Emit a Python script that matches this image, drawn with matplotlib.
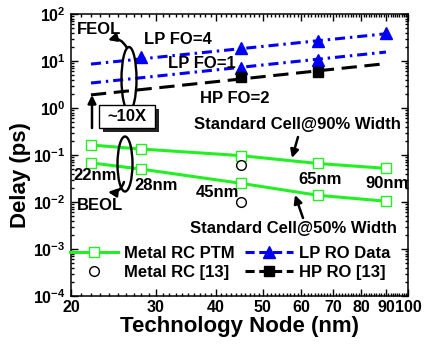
import matplotlib
matplotlib.use("Agg")
import matplotlib.pyplot as plt
import numpy as np
from matplotlib.lines import Line2D
from matplotlib.patches import Ellipse, Rectangle
from matplotlib.ticker import FixedLocator, FuncFormatter, LogLocator, NullFormatter
from matplotlib.transforms import IdentityTransform

# ---- data ----
nodes = [22, 28, 45, 65, 90]
rc_ptm_90 = [0.163, 0.134, 0.097, 0.066, 0.052]
rc_ptm_50 = [0.068, 0.050, 0.025, 0.0139, 0.0104]

rc13_x = [45, 45]
rc13_y = [0.061, 0.0102]

lp_fo4_x = [28, 45, 65, 90]
lp_fo4_y = [12.4, 18.6, 27.0, 40.0]
lp_fo1_x = [45, 65]
lp_fo1_y = [7.0, 10.5]
hp_fo2_x = [45, 65]
hp_fo2_y = [4.5, 5.9]

# fitted trend lines (end points)
fit_x = [22, 90]
lp_fo4_fit = [8.6, 38.0]
lp_fo1_fit = [3.4, 15.5]
hp_fo2_fit = [1.9, 8.8]

xticks = [20, 30, 40, 50, 60, 70, 80, 90, 100]
node_labels = ["22nm", "28nm", "45nm", "65nm", "90nm"]

GREEN = "#22f022"
BLUE = "#0000f5"

plt.rcParams["font.family"] = "Liberation Sans"
plt.rcParams["font.weight"] = "bold"
plt.rcParams["mathtext.fontset"] = "custom"
plt.rcParams["mathtext.rm"] = "Liberation Sans:bold"
plt.rcParams["mathtext.bf"] = "Liberation Sans:bold"
plt.rcParams["mathtext.it"] = "Liberation Sans:bold"

W, H = 425, 347
fig = plt.figure(figsize=(W / 100, H / 100), dpi=100)
ax = fig.add_axes([71 / W, 1 - 296 / H, 337 / W, 282 / H])


def fp(x, y):
    # reference pixel -> figure pixels (origin bottom-left)
    return (x, H - y)


LW = 2.2
# green metal RC lines
ax.plot(nodes, rc_ptm_90, color=GREEN, lw=LW, marker="s", ms=7.5,
        mfc="white", mec=GREEN, mew=1.0)
ax.plot(nodes, rc_ptm_50, color=GREEN, lw=LW, marker="s", ms=7.5,
        mfc="white", mec=GREEN, mew=1.0)
ax.plot(rc13_x, rc13_y, ls="none", marker="o", ms=7, mfc="white",
        mec="black", mew=1.0)

# ring oscillator trend lines + measured points
dashdot = (3.3, 1.6, 0.8, 1.6)
ax.plot(fit_x, lp_fo4_fit, color=BLUE, lw=LW, dashes=dashdot)
ax.plot(fit_x, lp_fo1_fit, color=BLUE, lw=LW, dashes=dashdot)
ax.plot(fit_x, hp_fo2_fit, color="black", lw=LW, dashes=(5, 2.5))
ax.plot(lp_fo4_x, lp_fo4_y, ls="none", marker="^", ms=9, color=BLUE)
ax.plot(lp_fo1_x, lp_fo1_y, ls="none", marker="^", ms=9, color=BLUE)
ax.plot(hp_fo2_x, hp_fo2_y, ls="none", marker="s", ms=7, color="black")

ax.set_xscale("log")
ax.set_yscale("log")
ax.set_xlim(20, 100)
ax.set_ylim(1e-4, 1e2)

ax.xaxis.set_major_locator(FixedLocator(xticks))
ax.xaxis.set_minor_locator(FixedLocator([v for v in range(21, 100) if v % 10]))
ax.xaxis.set_major_formatter(FuncFormatter(lambda v, _: "%d" % v))
ax.xaxis.set_minor_formatter(NullFormatter())
ax.yaxis.set_major_locator(LogLocator(base=10, numticks=10))
ax.yaxis.set_minor_locator(LogLocator(base=10, subs=range(2, 10), numticks=20))
ax.yaxis.set_major_formatter(
    FuncFormatter(lambda v, _: r"$10^{%d}$" % round(np.log10(v))))
ax.yaxis.set_minor_formatter(NullFormatter())

ax.tick_params(which="both", direction="in", top=True, right=True,
               labelsize=11.5, width=1.0)
ax.tick_params(which="major", length=5)
ax.tick_params(axis="x", which="major", pad=3)
ax.tick_params(axis="y", which="major", pad=4)
ax.tick_params(which="minor", length=2.5)
for s in ax.spines.values():
    s.set_linewidth(1.1)

ax.set_xlabel("Technology Node (nm)", fontsize=16, fontweight="bold")
ax.set_ylabel("Delay (ps)", fontsize=16, fontweight="bold")
ax.xaxis.set_label_coords(0.5, -0.072)
ax.yaxis.set_label_coords(-0.118, 0.43)

# legend
handles = [
    Line2D([], [], color=GREEN, lw=LW, marker="s", ms=7.5, mfc="white",
           mec=GREEN, mew=1.0),
    Line2D([], [], ls="none", marker="o", ms=7, mfc="white", mec="black"),
    Line2D([], [], color=BLUE, lw=LW, dashes=(3, 1.5), marker="^", ms=9),
    Line2D([], [], color="black", lw=LW, dashes=(3, 1.5), marker="s", ms=7),
]
labels = ["Metal RC PTM", "Metal RC [13]", "LP RO Data", "HP RO [13]"]
ax.legend(handles, labels, ncol=2, loc="upper left",
          bbox_to_anchor=(70 / W, 1 - 246 / H), bbox_transform=fig.transFigure,
          frameon=False, fontsize=12, handlelength=2.9, handletextpad=0.35,
          columnspacing=0.6, borderpad=0, borderaxespad=0, labelspacing=0.25)


def label(x, y, s, size=12):
    fig.text(x / W, 1 - y / H, s, ha="center", va="center",
             fontsize=size, fontweight="bold")


label(99, 30, "FEOL")
label(178, 40, "LP FO=4")
label(202, 63, "LP FO=1")
label(235, 98, "HP FO=2")
label(297, 124, "Standard Cell@90% Width")
label(293, 228, "Standard Cell@50% Width")
label(100, 205, "BEOL")
for (px, py), s in zip([(95, 175), (156, 185), (217, 192), (320, 180), (387, 183)],
                       node_labels):
    label(px, py, s)

# ellipses grouping FEOL / BEOL
for cx, cy, ew, eh in [(129, 79, 15, 64), (125, 164, 15, 55)]:
    fig.add_artist(Ellipse(fp(cx, cy), ew, eh, fill=False, ec="black",
                           lw=1.7, transform=IdentityTransform()))

arrow = dict(arrowstyle="-|>", color="black", lw=1.8, mutation_scale=12,
             shrinkA=0, shrinkB=0)
ax.annotate("", xy=fp(108, 40), xytext=fp(127, 48), xycoords="figure pixels",
            textcoords="figure pixels",
            arrowprops=dict(arrow, connectionstyle="arc3,rad=0.4"))
ax.annotate("", xy=fp(108, 192), xytext=fp(124, 182), xycoords="figure pixels",
            textcoords="figure pixels",
            arrowprops=dict(arrow, connectionstyle="arc3,rad=-0.4"))
ax.annotate("", xy=fp(92, 95), xytext=fp(92, 128), xycoords="figure pixels",
            textcoords="figure pixels", arrowprops=arrow)
ax.annotate("", xy=fp(292, 158), xytext=fp(298, 137), xycoords="figure pixels",
            textcoords="figure pixels", arrowprops=arrow)
ax.annotate("", xy=fp(295, 195), xytext=fp(303, 218), xycoords="figure pixels",
            textcoords="figure pixels", arrowprops=arrow)

# "~10X" box with drop shadow
fig.add_artist(Rectangle(fp(103, 132), 56, 23, fc="#222222", ec="none",
                         transform=IdentityTransform()))
fig.add_artist(Rectangle(fp(99, 128), 56, 23, fc="white", ec="black", lw=1.0,
                         transform=IdentityTransform()))
label(127, 116.5, "~10X")

fig.savefig("out.png", dpi=100)
